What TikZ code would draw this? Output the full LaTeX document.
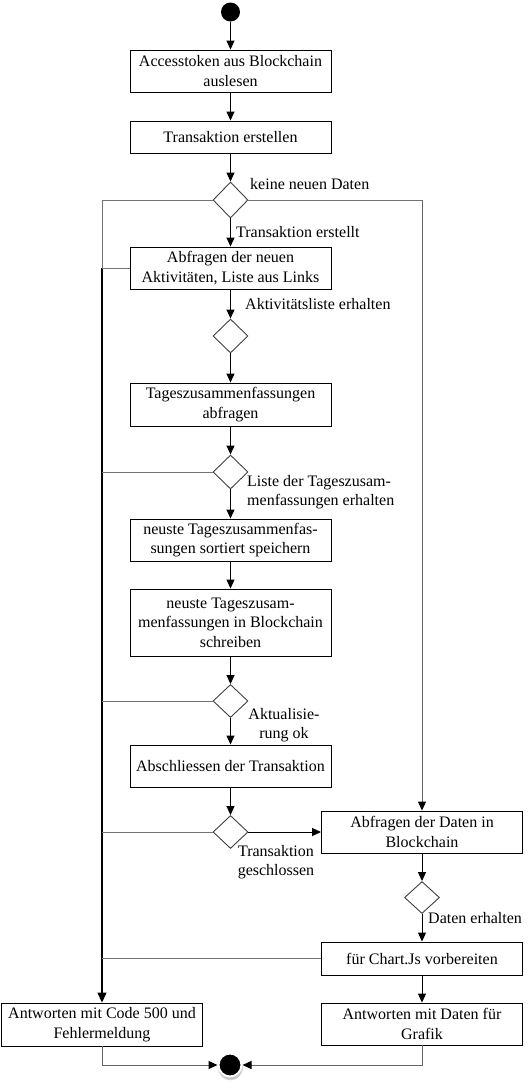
\documentclass[tikz,border=0pt]{standalone}
\usepackage{fontspec}
\setmainfont{Liberation Serif}
\usetikzlibrary{arrows.meta,shapes.geometric,shadows}
\begin{document}
\begin{tikzpicture}[x=1pt,y=-1pt,
  txt/.style={font=\fontsize{16}{19.5}\selectfont},
  box/.style={txt, draw, line width=0.9pt, minimum width=201pt, align=center, inner sep=2pt},
  dec/.style={draw=black!75, diamond, line width=0.9pt, minimum width=35pt, minimum height=34pt, inner sep=0pt},
  lbl/.style={txt, inner sep=0pt},
  flow/.style={line width=0.9pt, -{Triangle[length=9pt,width=8pt]}},
  gflow/.style={line width=1pt, draw=black!60, -{Triangle[length=9pt,width=8pt,color=black]}},
  link/.style={line width=1pt, draw=black!55},
  trunk/.style={line width=1.3pt, -{Triangle[length=10pt,width=9pt]}}
]
\useasboundingbox (0,0) rectangle (530,1090);

% nodes
\node[circle, fill=black, minimum size=19pt, inner sep=0pt] (start) at (230.5,12) {};
\node[box, minimum height=42pt] (b1) at (230.5,71) {Accesstoken aus Blockchain\\auslesen};
\node[box, minimum height=32pt] (b2) at (230.5,137) {Transaktion erstellen};
\node[dec, minimum height=36pt] (d1) at (230.5,200) {};
\node[box, minimum height=42pt] (b3) at (230.5,268) {Abfragen der neuen\\Aktivitäten, Liste aus Links};
\node[dec] (d2) at (230.5,336) {};
\node[box, minimum height=43pt] (b4) at (230.5,404.5) {Tageszusammenfassungen\\abfragen};
\node[dec] (d3) at (230.5,472) {};
\node[box, minimum height=42pt] (b5) at (230.5,540) {neuste Tageszusammenfas-\\sungen sortiert speichern};
\node[box, minimum height=67pt] (b6) at (230.5,622.5) {neuste Tageszusam-\\menfassungen in Blockchain\\schreiben};
\node[dec, minimum height=33pt] (d4) at (230.5,701) {};
\node[box, minimum height=42pt] (b7) at (230.5,766) {Abschliessen der Transaktion};
\node[dec, minimum height=33pt] (d5) at (230.5,832) {};
\node[box, minimum height=42pt] (b8) at (422,832) {Abfragen der Daten in\\Blockchain};
\node[dec, minimum height=32pt] (d6) at (422,897.5) {};
\node[box, minimum height=33pt] (b9) at (422,958.5) {für Chart.Js vorbereiten};
\node[box, minimum height=42pt] (b10) at (422,1024) {Antworten mit Daten für\\Grafik};
\node[box, minimum height=43pt] (b11) at (102,1024.5) {Antworten mit Code 500 und\\Fehlermeldung};
\node[circle, fill=black, draw=white, line width=2pt, minimum size=23pt, inner sep=0pt,
      circular drop shadow={shadow xshift=0pt, shadow yshift=-2pt, opacity=0.45, shadow scale=1.15}] (end) at (230,1065) {};

\coordinate (tl) at (102,200);
\coordinate (tm) at (102,268);
\coordinate (tr) at (422,200);

% labels
\node[lbl, anchor=west] (l1) at (250,184) {keine neuen Daten};
\node[lbl, anchor=west] (l2) at (236,232) {Transaktion erstellt};
\node[lbl, anchor=west] (l3) at (245,304) {Aktivitätsliste erhalten};
\node[lbl, anchor=west, align=left] (l4) at (247,492) {Liste der Tageszusam-\\menfassungen erhalten};
\node[lbl, align=center] (l5) at (284,725) {Aktualisie-\\rung ok};
\node[lbl, align=center] (l6) at (276,862) {Transaktion\\geschlossen};
\node[lbl, anchor=west] (l7) at (428,918) {Daten erhalten};

% main column
\draw[flow] (start) -- (b1);
\draw[flow] (b1) -- (b2);
\draw[flow] (b2) -- (d1);
\draw[flow] (d1) -- (b3);
\draw[flow] (b3) -- (d2);
\draw[flow] (d2) -- (b4);
\draw[flow] (b4) -- (d3);
\draw[flow] (d3) -- (b5);
\draw[flow] (b5) -- (b6);
\draw[flow] (b6) -- (d4);
\draw[flow] (d4) -- (b7);
\draw[flow] (b7) -- (d5);
\draw[flow] (d5) -- (b8);
\draw[flow] (b8) -- (d6);
\draw[flow] (d6) -- (b9);
\draw[flow] (b9) -- (b10);

% right branch
\draw[link] (d1.east) -- (tr);
\draw[gflow] (tr) -- (b8.north);

% left trunk
\draw[link] (d1.west) -- (tl) -- (tm);
\draw[trunk] (tm) -- (b11.north);
\draw[link] (b3.west) -- (tm);
\draw[link] (d3.west) -- (d3.west -| tl);
\draw[link] (d4.west) -- (d4.west -| tl);
\draw[link] (d5.west) -- (d5.west -| tl);
\draw[link] (b9.west) -- (b9.west -| tl);

% to end
\draw[gflow] (b11.south) |- (end.west);
\draw[gflow] (b10.south) |- (end.east);
\end{tikzpicture}
\end{document}
